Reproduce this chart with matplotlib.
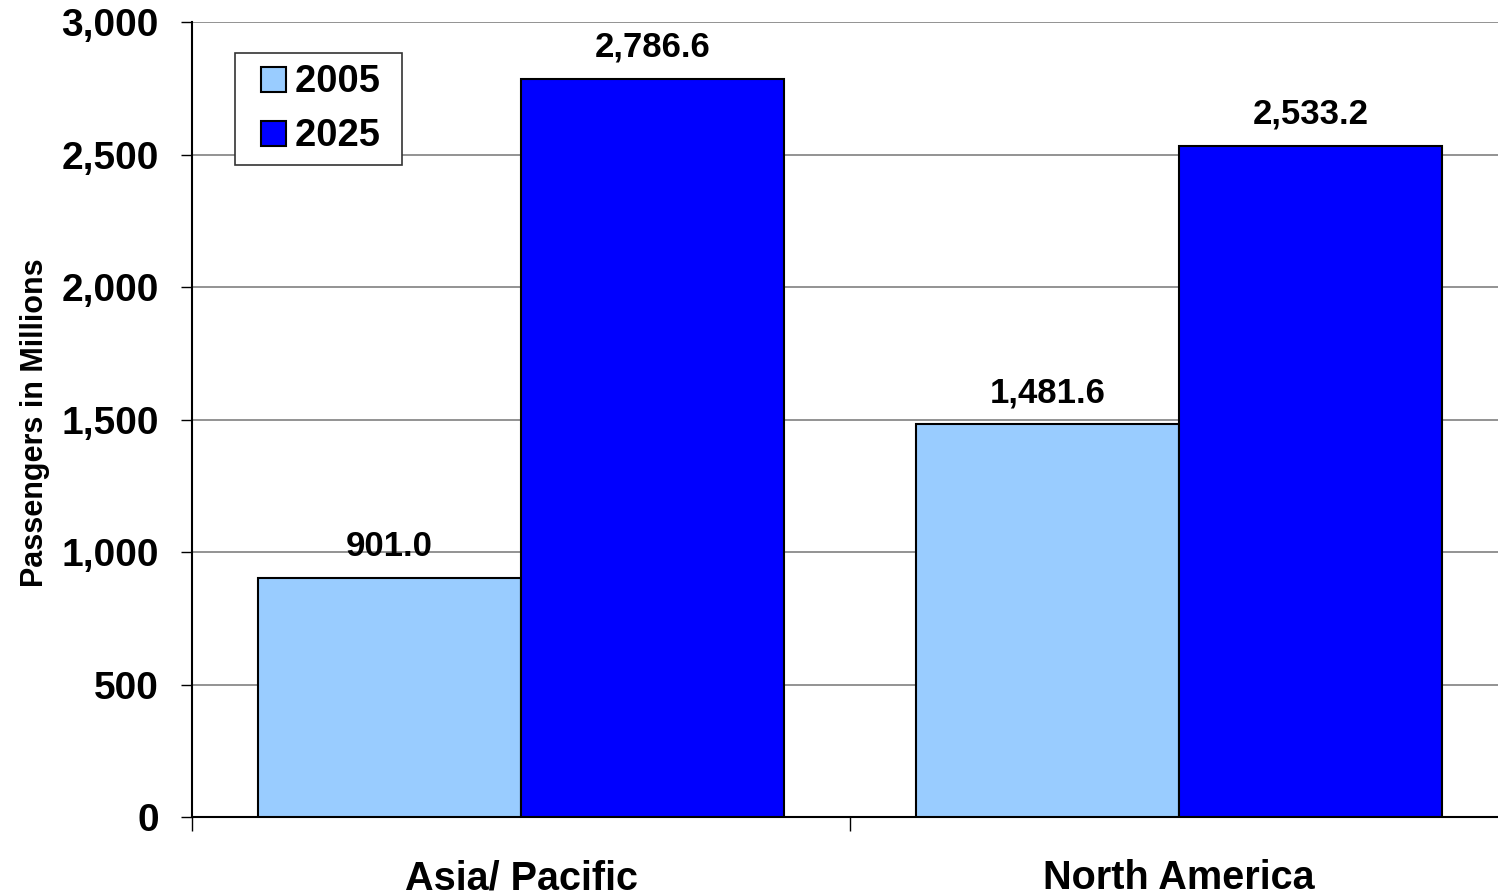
import matplotlib.pyplot as plt
from matplotlib.lines import Line2D
import numpy as np

plt.rcParams['font.family'] = 'Liberation Sans'
plt.rcParams['font.weight'] = 'bold'

# donnees
regions = ['Asia/ Pacific', 'North America']
years = ['2005', '2025']
val_2005 = [901.0, 1481.6]
val_2025 = [2786.6, 2533.2]
colors = ['#99CCFF', '#0000FF']

fig = plt.figure(figsize=(14.98, 8.96), dpi=100)
ax = fig.add_axes([192 / 1498, 79 / 896, 1316 / 1498, 795 / 896])

x = np.arange(len(regions))
w = 0.4
b1 = ax.bar(x - w / 2, val_2005, w, color=colors[0], edgecolor='black', linewidth=1.5, zorder=3)
b2 = ax.bar(x + w / 2, val_2025, w, color=colors[1], edgecolor='black', linewidth=1.5, zorder=3)

# etiquettes de valeurs
for bars in (b1, b2):
    for r in bars:
        h = r.get_height()
        ax.annotate(f'{h:,.1f}', (r.get_x() + r.get_width() / 2, h), xytext=(0, 16),
                    textcoords='offset points', ha='center', va='baseline',
                    fontsize=25, fontweight='bold')

ax.set_xlim(-0.5, 1.5)
ax.set_ylim(0, 3000)
ax.set_yticks(np.arange(0, 3001, 500))
ax.set_yticklabels([f'{v:,}' for v in range(0, 3001, 500)], fontsize=28, fontweight='bold')
ax.tick_params(axis='y', length=8, width=1, pad=16)
ax.yaxis.grid(True, color='#808080', linewidth=1.2, zorder=0)

ax.set_xticks([-0.5, 0.5, 1.5])
ax.set_xticklabels([])
ax.tick_params(axis='x', which='major', length=10, width=1)

# noms des regions
for i, name in enumerate(regions):
    ax.annotate(name, (x[i], 0), xycoords=('data', 'axes fraction'),
                xytext=(0, -52), textcoords='offset points',
                ha='center', va='baseline', fontsize=28.5, fontweight='bold',
                annotation_clip=False)

for s in ['top', 'right']:
    ax.spines[s].set_visible(False)
ax.spines['left'].set_linewidth(1.5)
ax.spines['bottom'].set_linewidth(1.5)

fig.text(35 / 1498, 1 - 423 / 896, 'Passengers in Millions', rotation=90,
         ha='center', va='center', fontsize=22, fontweight='bold')

handles = [Line2D([], [], linestyle='none', marker='s', markersize=18,
                  markerfacecolor=c, markeredgecolor='black', markeredgewidth=1.5)
           for c in colors]
leg = ax.legend(handles, [y + ' ' for y in years], loc='upper left',
                bbox_to_anchor=(0.0327, 0.961), fontsize=27.5,
                handlelength=1.37, handletextpad=-0.09,
                borderaxespad=0, borderpad=0.3, labelspacing=0.46,
                fancybox=False, framealpha=1, edgecolor='#333333')
leg.get_frame().set_linewidth(1.2)
for t in leg.get_texts():
    t.set_fontweight('bold')

fig.savefig('out.png', dpi=100)
